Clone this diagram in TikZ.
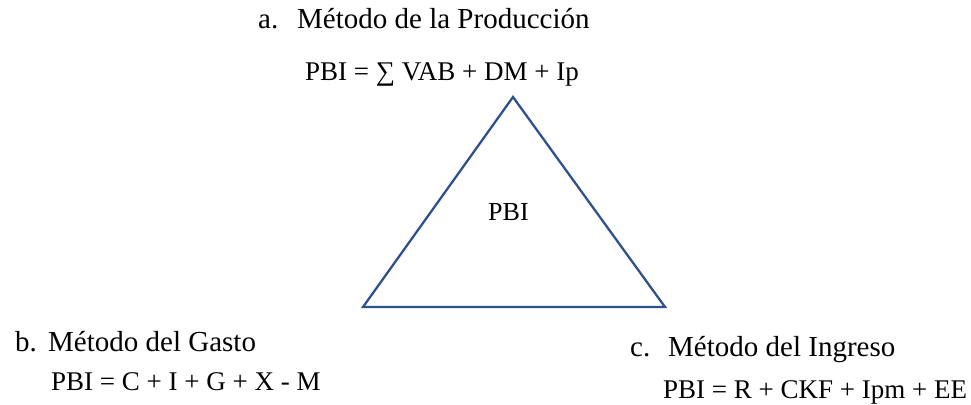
\documentclass[tikz,border=0pt]{standalone}
\usepackage{fontspec}
\setmainfont{Liberation Serif}
\definecolor{triblue}{HTML}{2F528F}
\begin{document}
\begin{tikzpicture}[x=1pt,y=-1pt,
  lbl/.style={anchor=base west,inner sep=0pt},
  ttl/.style={lbl,font=\fontsize{29}{33}\selectfont},
  frm/.style={lbl,font=\fontsize{27}{31}\selectfont},
  edge/.style={draw=triblue,line width=2.3pt,line join=miter}]
\useasboundingbox (0,0) rectangle (971,404);
\coordinate (top) at (513,97);
\coordinate (bl) at (363,307);
\coordinate (br) at (665,307);
\draw[edge] (top) -- (br) -- (bl) -- cycle;
\node[lbl,font=\fontsize{26}{30}\selectfont] (pbi) at (488,220) {PBI};
\node[ttl] (amark) at (258,29) {a.};
\node[ttl] (atitle) at (297,29) {Método de la Producción};
\node[frm] (aform) at (305,80) {PBI = ∑ VAB + DM + Ip};
\node[ttl] (bmark) at (15,351) {b.};
\node[ttl] (btitle) at (48,351) {Método del Gasto};
\node[frm] (bform) at (51,390) {PBI = C + I + G + X - M};
\node[ttl] (cmark) at (630,356) {c.};
\node[ttl] (ctitle) at (668,356) {Método del Ingreso};
\node[frm] (cform) at (663,398) {PBI = R + CKF + Ipm + EE};
\end{tikzpicture}
\end{document}
